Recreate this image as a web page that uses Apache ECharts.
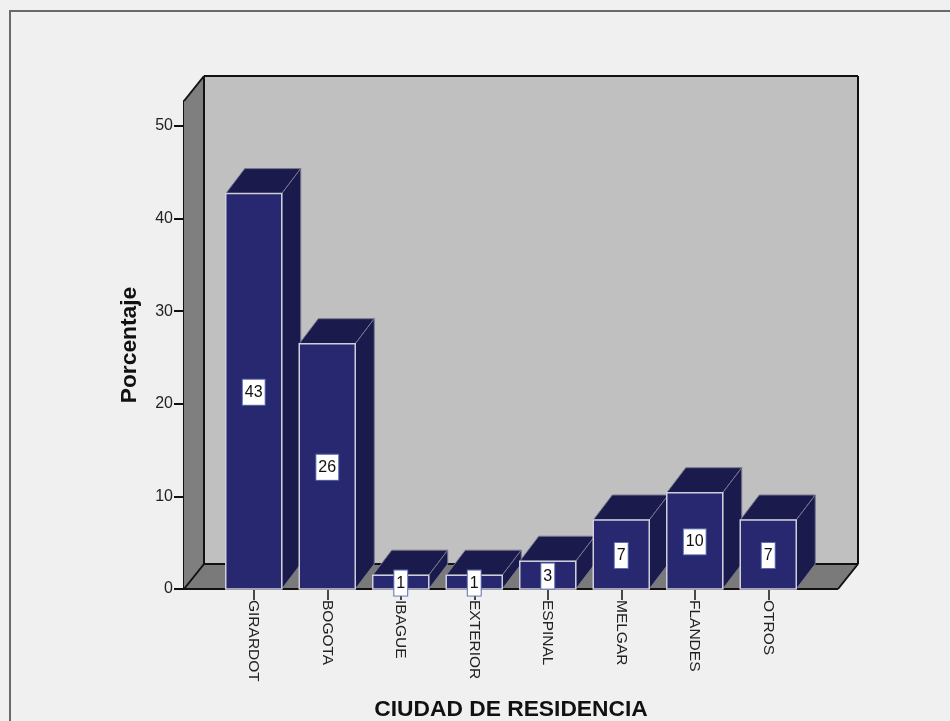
<!DOCTYPE html>
<html><head><meta charset="utf-8">
<style>html,body{margin:0;padding:0;background:#f0f0f0}#c{width:950px;height:721px}</style>
<script src="https://cdn.jsdelivr.net/npm/echarts@6/dist/echarts.min.js"></script>
</head><body><div id="c"></div>
<script>
const categories = ['GIRARDOT','BOGOTA','IBAGUE','EXTERIOR','ESPINAL','MELGAR','FLANDES','OTROS'];
const percentages = [42.7, 26.49, 1.49, 1.49, 3.0, 7.45, 10.4, 7.45];
const yTicks = [0, 10, 20, 30, 40, 50];
const yTop = 52.7;
const FONT = '"Liberation Sans", Arial, sans-serif';
const DX = 20, DY = 25, GAP = 33, BAR_W = 56;
const poly = (points, fill, stroke, lw) => ({type:'polygon', shape:{points}, style:{fill, stroke, lineWidth:lw||0}});
const line = (x1,y1,x2,y2) => ({type:'line', shape:{x1,y1,x2,y2}, style:{stroke:'#111', lineWidth:2}});
const chart = echarts.init(document.getElementById('c'), null, {renderer:'canvas'});
chart.setOption({
  animation:false,
  backgroundColor:'#f0f0f0',
  graphic:[{type:'polyline', z:0, shape:{points:[[10,721],[10,11],[950,11]]}, style:{fill:'none', stroke:'#6a6a6a', lineWidth:2}}],
  grid:{left:217, top:101, width:588, height:488, containLabel:false, outerBoundsMode:'none'},
  xAxis:{type:'category', data:categories, boundaryGap:true,
    axisLine:{show:false},
    axisTick:{show:true, alignWithLabel:true, length:11, lineStyle:{color:'#111', width:1.5}},
    axisLabel:{rotate:-90, margin:11, interval:0, color:'#222', fontFamily:FONT, fontSize:15.5},
    name:'CIUDAD DE RESIDENCIA', nameLocation:'middle', nameGap:121,
    nameTextStyle:{color:'#111', fontFamily:FONT, fontSize:22.8, fontWeight:'bold', verticalAlign:'middle'}},
  yAxis:{type:'value', min:0, max:yTop, offset:GAP,
    splitLine:{show:false},
    axisLine:{show:true, lineStyle:{color:'#111', width:2}},
    axisTick:{show:true, length:10, customValues:yTicks, lineStyle:{color:'#111', width:2}},
    axisLabel:{customValues:yTicks, margin:11, color:'#222', fontFamily:FONT, fontSize:16},
    name:'Porcentaje', nameLocation:'middle', nameGap:43,
    nameTextStyle:{color:'#111', fontFamily:FONT, fontSize:22.8, fontWeight:'bold'}},
  series:[
    {type:'custom', z:1, silent:true, data:[[0,0]], encode:{x:0,y:1},
     renderItem(params, api){
       const cs = params.coordSys;
       const xl = cs.x - GAP, xr = cs.x + cs.width + GAP;
       const yb = api.coord([0,0])[1], yt = api.coord([0,yTop])[1];
       const bk = -DY;
       return {type:'group', children:[
         poly([[xl+DX,yt+bk],[xr+DX,yt+bk],[xr+DX,yb+bk],[xl+DX,yb+bk]], '#c0c0c0'),
         poly([[xl,yt],[xl+DX,yt+bk],[xl+DX,yb+bk],[xl,yb]], '#7f7f7f'),
         poly([[xl,yb],[xl+DX,yb+bk],[xr+DX,yb+bk],[xr,yb]], '#7a7a7a'),
         line(xl,yt,xl+DX,yt+bk), line(xl+DX,yt+bk,xr+DX,yt+bk),
         line(xr+DX,yt+bk,xr+DX,yb+bk), line(xl+DX,yt+bk,xl+DX,yb+bk),
         line(xl+DX,yb+bk,xr+DX,yb+bk), line(xl,yb,xl+DX,yb+bk),
         line(xr,yb,xr+DX,yb+bk), line(xl,yb,xr,yb)
       ]};
     }},
    {type:'custom', z:3, silent:true,
     data:percentages.map((v,i)=>[i,v]), encode:{x:0,y:1},
     renderItem(params, api){
       const v = api.value(1);
       const [cx, yTopBar] = api.coord([api.value(0), v]);
       const y0 = api.coord([api.value(0), 0])[1];
       const l = cx - BAR_W/2, r = cx + BAR_W/2;
       const side = '#1a1a4d', edge = '#77778f', front = '#27286f';
       return {type:'group', children:[
         poly([[l,yTopBar],[l+DX-1,yTopBar-DY],[r+DX-1,yTopBar-DY],[r,yTopBar]], side, edge, 1),
         poly([[r,yTopBar],[r+DX-1,yTopBar-DY],[r+DX-1,y0-DY],[r,y0]], side, edge, 1),
         {type:'rect', shape:{x:l,y:yTopBar,width:BAR_W,height:y0-yTopBar}, style:{fill:front, stroke:'#cfcfdc', lineWidth:1.5}},
         {type:'text', x:cx, y:(yTopBar+y0)/2+1, style:{
            text:String(Math.round(v)), fill:'#111', font:'16px '+FONT, align:'center', verticalAlign:'middle',
            backgroundColor:'#fff', padding:[5,2,4,2], borderColor:'#5a6fb0', borderWidth:1}}
       ]};
     }}
  ]
});
</script></body></html>
